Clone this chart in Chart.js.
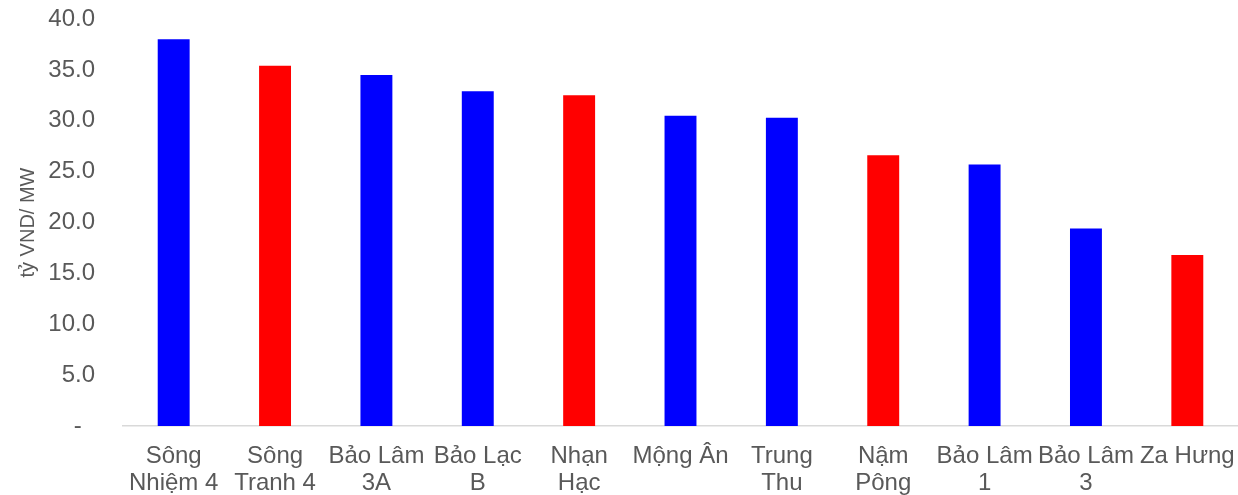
<!DOCTYPE html>
<html>
<head>
<meta charset="utf-8">
<script src="https://cdn.jsdelivr.net/npm/chart.js@4.4.1/dist/chart.umd.min.js"></script>
<style>
  html, body { margin: 0; padding: 0; background: #ffffff; }
  #wrap { width: 1238px; height: 495px; position: relative; }
</style>
</head>
<body>
<div id="wrap"><canvas id="c"></canvas></div>
<script>
const categories = [
  ['Sông', 'Nhiệm 4'],
  ['Sông', 'Tranh 4'],
  ['Bảo Lâm', '3A'],
  ['Bảo Lạc', 'B'],
  ['Nhạn', 'Hạc'],
  'Mộng Ân',
  ['Trung', 'Thu'],
  ['Nậm', 'Pông'],
  ['Bảo Lâm', '1'],
  ['Bảo Lâm', '3'],
  'Za Hưng'
];
const costPerMW = [38.0, 35.4, 34.5, 32.9, 32.5, 30.5, 30.3, 26.6, 25.7, 19.4, 16.8];
const barGroup = ['blue', 'red', 'blue', 'blue', 'red', 'blue', 'blue', 'red', 'blue', 'blue', 'red'];
const yTicks = [0, 5, 10, 15, 20, 25, 30, 35, 40];
const yTitle = 'tỷ VND/ MW';

const colorMap = { blue: '#0000FF', red: '#FF0000' };
const textColor = '#595959';
const fontFamily = '"Liberation Sans", Arial, sans-serif';

new Chart(document.getElementById('c'), {
  type: 'bar',
  data: {
    labels: categories,
    datasets: [{
      data: costPerMW,
      backgroundColor: barGroup.map(g => colorMap[g]),
      borderWidth: 0,
      barPercentage: 0.315,
      categoryPercentage: 1.0
    }]
  },
  options: {
    responsive: true,
    maintainAspectRatio: false,
    animation: false,
    layout: { padding: { top: 19, right: 0, bottom: 0, left: 0 } },
    plugins: {
      legend: { display: false },
      tooltip: { enabled: false }
    },
    scales: {
      x: {
        grid: { display: false, drawTicks: false, tickLength: 0 },
        border: { display: true, color: '#D9D9D9', width: 1.5 },
        ticks: {
          color: textColor,
          font: { family: fontFamily, size: 24, lineHeight: 1.12 },
          padding: 17,
          maxRotation: 0,
          minRotation: 0,
          autoSkip: false
        },
        afterFit: s => { s.height = 69; s.paddingLeft = 0; s.paddingRight = 0; }
      },
      y: {
        min: 0,
        max: 40,
        afterBuildTicks: s => { s.ticks = yTicks.map(v => ({ value: v })); },
        grid: { display: false, drawTicks: false, tickLength: 0 },
        border: { display: false },
        ticks: {
          color: textColor,
          font: { family: fontFamily, size: 24 },
          padding: 28,
          callback: v => v === 0 ? '-  ' : v.toFixed(1)
        },
        title: {
          display: true,
          text: yTitle,
          color: textColor,
          font: { family: fontFamily, size: 20 },
          padding: { top: 16, bottom: 0 }
        },
        afterFit: s => { s.width = 123; s.paddingTop = 0; s.paddingBottom = 0; }
      }
    }
  }
});
</script>
</body>
</html>
